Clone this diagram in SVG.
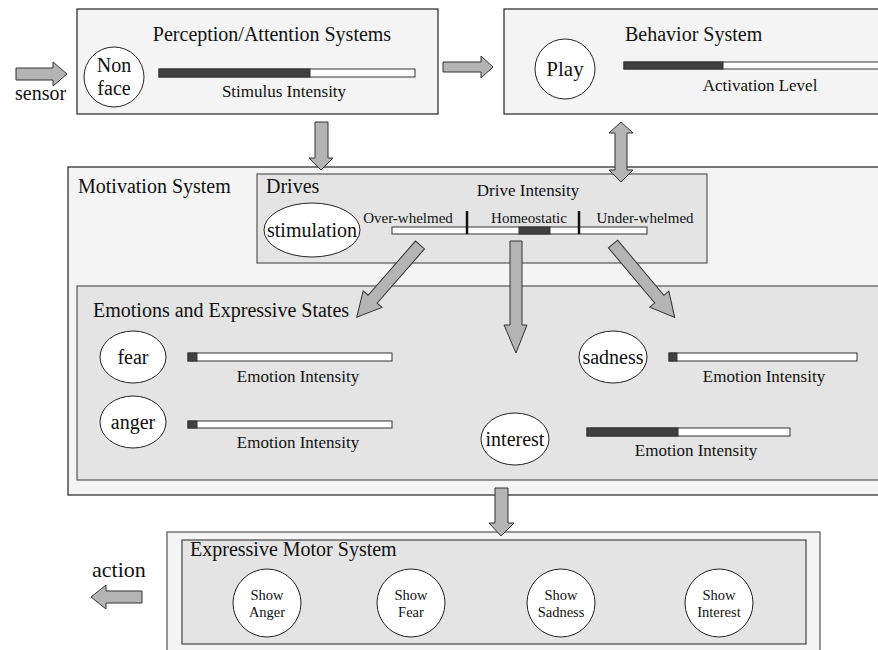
<svg xmlns="http://www.w3.org/2000/svg" width="878" height="650" viewBox="0 0 878 650">
<style>
text{font-family:"Liberation Serif","Times New Roman",serif;fill:#111}
.outer{fill:#f4f4f4;stroke:#222;stroke-width:1.2}
.inner{fill:#e4e4e4;stroke:#555;stroke-width:1.2}
.arrow{fill:#b4b4b4;stroke:#333;stroke-width:1}
.bar{fill:#fff;stroke:#333;stroke-width:1}
.lvl{fill:#404040;stroke:#333;stroke-width:1}
.node{fill:#fff;stroke:#222;stroke-width:1}
.t20{font-size:20px}
.t17{font-size:17px}
.t15{font-size:15px}
.t14{font-size:14.5px}
.mid{text-anchor:middle}
</style>
<rect width="878" height="650" fill="#fff"/>

<g id="perception">
<rect class="outer" x="77" y="9" width="361" height="105"/>
<text class="t20 mid" x="272" y="41">Perception/Attention Systems</text>
<circle class="node" cx="114" cy="77" r="30"/>
<text class="t20 mid" x="114" y="72">Non</text>
<text class="t20 mid" x="114" y="95">face</text>
<rect class="bar" x="159" y="69" width="256" height="8"/>
<rect class="lvl" x="159" y="69" width="151" height="8"/>
<text class="t17 mid" x="284" y="97">Stimulus Intensity</text>
</g>

<g id="behavior">
<rect class="outer" x="504" y="9" width="380" height="105"/>
<text class="t20" x="625" y="41">Behavior System</text>
<circle class="node" cx="565" cy="69" r="30"/>
<text class="mid" x="565" y="76" font-size="21">Play</text>
<rect class="bar" x="624" y="62" width="260" height="7"/>
<rect class="lvl" x="624" y="62" width="99" height="7"/>
<text class="t17 mid" x="760" y="91">Activation Level</text>
</g>

<g id="motivation">
<rect class="outer" x="68" y="167" width="816" height="328"/>
<text class="t20" x="78" y="193">Motivation System</text>
</g>

<g id="drives">
<rect class="inner" x="257" y="174" width="450" height="89"/>
<text class="t20" x="266" y="193">Drives</text>
<text class="t17 mid" x="528" y="196">Drive Intensity</text>
<ellipse class="node" cx="312" cy="230" rx="48" ry="27"/>
<text class="t20 mid" x="312" y="237">stimulation</text>
<text class="t15 mid" x="408" y="223">Over-whelmed</text>
<text class="t15 mid" x="529" y="223">Homeostatic</text>
<text class="t15 mid" x="645" y="223">Under-whelmed</text>
<rect class="bar" x="392" y="227" width="255" height="7"/>
<rect class="lvl" x="519" y="227" width="31" height="7"/>
<line x1="467" y1="211" x2="467" y2="234" stroke="#111" stroke-width="2.5"/>
<line x1="579" y1="211" x2="579" y2="234" stroke="#111" stroke-width="2.5"/>
</g>

<g id="emotions">
<rect class="inner" x="77" y="286" width="810" height="194"/>
<text class="t20" x="93" y="317">Emotions and Expressive States</text>
</g>

<g id="fear">
<ellipse class="node" cx="133" cy="357" rx="33" ry="26"/>
<text class="t20 mid" x="133" y="364">fear</text>
<rect class="bar" x="188" y="353" width="204" height="8"/>
<rect class="lvl" x="188" y="353" width="9" height="8"/>
<text class="t17 mid" x="298" y="382">Emotion Intensity</text>
</g>

<g id="anger">
<ellipse class="node" cx="133" cy="422" rx="33" ry="26"/>
<text class="t20 mid" x="133" y="429">anger</text>
<rect class="bar" x="188" y="421" width="204" height="7"/>
<rect class="lvl" x="188" y="421" width="9" height="7"/>
<text class="t17 mid" x="298" y="448">Emotion Intensity</text>
</g>

<g id="sadness">
<ellipse class="node" cx="613" cy="357" rx="34" ry="26"/>
<text class="t20 mid" x="613" y="364">sadness</text>
<rect class="bar" x="669" y="353" width="188" height="8"/>
<rect class="lvl" x="669" y="353" width="8" height="8"/>
<text class="t17 mid" x="764" y="382">Emotion Intensity</text>
</g>

<g id="interest">
<ellipse class="node" cx="515" cy="439" rx="34" ry="26"/>
<text class="t20 mid" x="515" y="446">interest</text>
<rect class="bar" x="587" y="428" width="203" height="8"/>
<rect class="lvl" x="587" y="428" width="91" height="8"/>
<text class="t17 mid" x="696" y="456">Emotion Intensity</text>
</g>

<g id="motor">
<rect x="167" y="532" width="653" height="130" fill="#f4f4f4" stroke="#555" stroke-width="1.2"/>
<rect x="182" y="540" width="624" height="104" fill="#e4e4e4" stroke="#444" stroke-width="1.2"/>
<text class="t20" x="190" y="556">Expressive Motor System</text>
</g>

<g id="show-anger">
<circle class="node" cx="267" cy="603" r="34"/>
<text class="t14 mid" x="267" y="600">Show</text>
<text class="t14 mid" x="267" y="617">Anger</text>
</g>
<g id="show-fear">
<circle class="node" cx="411" cy="603" r="34"/>
<text class="t14 mid" x="411" y="600">Show</text>
<text class="t14 mid" x="411" y="617">Fear</text>
</g>
<g id="show-sadness">
<circle class="node" cx="561" cy="603" r="34"/>
<text class="t14 mid" x="561" y="600">Show</text>
<text class="t14 mid" x="561" y="617">Sadness</text>
</g>
<g id="show-interest">
<circle class="node" cx="719" cy="603" r="34"/>
<text class="t14 mid" x="719" y="600">Show</text>
<text class="t14 mid" x="719" y="617">Interest</text>
</g>

<g id="connectors">
<polygon class="arrow" points="16,68 53,68 53,62 67,74 53,86 53,80 16,80"/>
<text x="15" y="100" font-size="20">sensor</text>
<polygon class="arrow" points="443,62 481,62 481,56 493,67 481,78 481,72 443,72"/>
<polygon class="arrow" points="315,122 328,122 328,158 333,158 321,170 309,158 315,158"/>
<polygon class="arrow" points="615,133 615,170 609,170 621,182 633,170 627,170 627,133 633,133 621,122 609,133"/>
<polygon class="arrow" transform="translate(420,245) rotate(131.2)" points="0,-6 72,-6 72,-12.5 96,0 72,12.5 72,6 0,6"/>
<polygon class="arrow" transform="translate(613,244) rotate(50)" points="0,-6 72,-6 72,-12.5 96,0 72,12.5 72,6 0,6"/>
<polygon class="arrow" points="510,241 522,241 522,325 527,325 516,353 504,325 510,325"/>
<polygon class="arrow" points="495,488 508,488 508,523 514,523 501,536 489,523 495,523"/>
<polygon class="arrow" points="142,591 106,591 106,585 91,597 106,609 106,603 142,603"/>
<text x="92" y="577" font-size="22">action</text>
</g>
</svg>
